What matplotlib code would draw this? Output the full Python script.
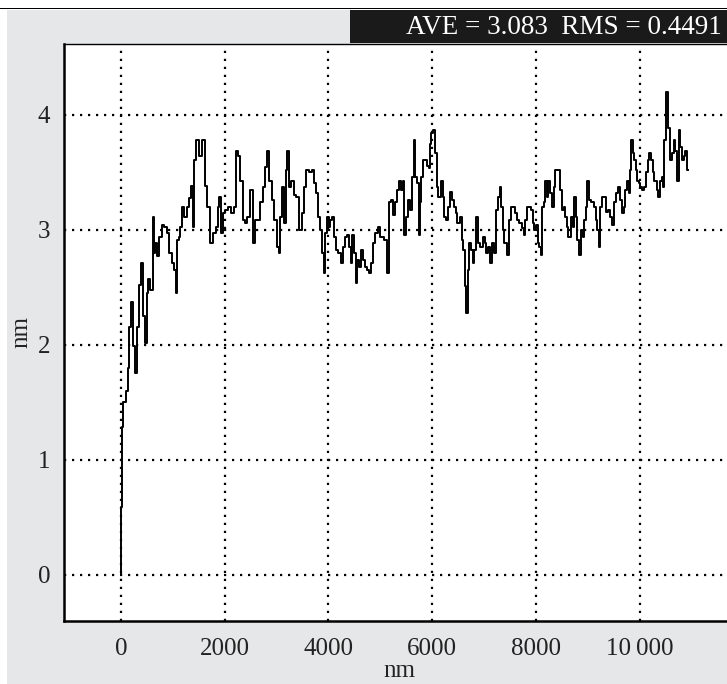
import matplotlib.pyplot as plt
from matplotlib.patches import Rectangle

# profile readings (distance in nm, height in nm)
dist_nm = [
    0, 5, 27, 58, 92, 111, 144, 175, 209, 242, 287, 320, 370, 417, 448, 481,
    515, 546, 593, 631, 643, 676, 709, 760, 807, 871, 904, 955, 1002, 1047,
    1080, 1099, 1130, 1164, 1197, 1242, 1294, 1339, 1372, 1403, 1423, 1475,
    1520, 1612, 1631, 1690, 1748, 1807, 1846, 1885, 1904, 1943, 1982, 2041,
    2099, 2158, 2197, 2236, 2275, 2333, 2372, 2411, 2470, 2509, 2567, 2587,
    2665, 2704, 2762, 2801, 2840, 2879, 2937, 2976, 3035, 3054, 3093, 3132,
    3171, 3191, 3230, 3269, 3308, 3366,
    3405, 3464, 3503, 3542, 3600, 3659, 3698, 3737, 3776, 3835, 3854, 3893,
    3932, 3952, 3991, 4030, 4049, 4108, 4127, 4166, 4225, 4244, 4303, 4342,
    4381, 4420, 4439, 4478, 4517, 4537, 4576, 4615, 4634, 4693, 4732, 4771,
    4810, 4829, 4888, 4927, 4985, 5024, 5063, 5102, 5141, 5180, 5219, 5258,
    5297, 5336, 5395, 5414, 5453,
    5473, 5512, 5551, 5609, 5629, 5668, 5687, 5726, 5765, 5785, 5804, 5843,
    5882, 5921, 5960, 5979, 5999, 6038, 6077, 6096, 6135, 6193, 6213, 6252,
    6291, 6330, 6369, 6408, 6447, 6466, 6505, 6564, 6583, 6622, 6642, 6681,
    6700, 6739, 6778, 6798, 6837, 6876, 6895, 6954, 6993, 7032, 7051, 7090,
    7129, 7168, 7207, 7246, 7285, 7324, 7344, 7383, 7402,
    7441, 7461, 7500, 7539, 7578, 7617, 7656, 7714, 7753, 7773, 7812, 7831,
    7890, 7929, 7948, 7987, 8026, 8046, 8085, 8104, 8143, 8163, 8202, 8221,
    8260, 8299, 8338, 8358, 8397, 8455, 8494, 8533, 8553, 8592, 8611, 8650,
    8689, 8728, 8748, 8787, 8806, 8845, 8884, 8923, 8943, 8982, 9001, 9040,
    9099, 9138, 9177, 9196, 9235, 9255, 9294, 9333,
    9372, 9411, 9450, 9489, 9528, 9567, 9606, 9645, 9684, 9704, 9743, 9782,
    9801, 9821, 9860, 9879, 9918, 9938, 9977, 9996, 10035, 10074, 10113,
    10152, 10172, 10211, 10250, 10269, 10308, 10347, 10367, 10406, 10445,
    10464, 10484, 10542, 10562, 10601, 10640, 10679, 10698, 10737, 10776,
    10796, 10835, 10874, 10893, 10932,
]
height_nm = [
    0.00, 0.59, 1.29, 1.50, 1.50, 1.60, 1.80, 2.16, 2.37, 1.99, 1.76, 2.16,
    2.52, 2.71, 2.25, 2.02, 2.45, 2.57, 2.48, 3.11, 2.80, 2.89, 2.77, 2.94,
    3.04, 3.03, 2.97, 2.80, 2.71, 2.65, 2.45, 2.91, 2.94, 3.03, 3.20, 3.11,
    3.20, 3.28, 3.38, 3.03, 3.61, 3.78, 3.64, 3.78, 3.38, 3.20, 2.89, 2.97,
    3.03, 3.20, 3.29, 2.97, 3.15, 3.17, 3.20, 3.15, 3.20, 3.69, 3.64, 3.43,
    3.09, 3.06, 3.11, 3.35, 2.89, 3.09, 3.09, 3.24, 3.37, 3.55, 3.69, 3.43,
    3.26, 3.09, 2.85, 2.80, 3.11, 3.37, 3.06, 3.52, 3.69, 3.37, 3.43, 3.30,
    3.29, 3.00, 3.15, 3.37, 3.52, 3.50, 3.52, 3.41, 3.32, 3.11, 3.00, 2.80,
    2.63, 2.97, 3.11, 3.03, 3.09, 3.11, 2.94, 2.83, 2.80, 2.71, 2.85, 2.94,
    2.96, 2.85, 2.71, 2.96, 2.80, 2.54, 2.74, 2.68, 2.83, 2.74, 2.68, 2.65,
    2.63, 2.71, 2.89, 2.97, 3.03, 2.94, 2.94, 2.91, 2.63, 3.24, 3.26, 3.13,
    3.24, 3.35, 3.43, 3.35, 3.43,
    2.96, 3.11, 3.26, 3.17, 3.46, 3.78, 3.46, 3.41, 2.96, 3.24, 3.46, 3.61,
    3.61, 3.56, 3.54, 3.75, 3.84, 3.87, 3.67, 3.37, 3.29, 3.43, 3.29, 3.11,
    3.09, 3.20, 3.33, 3.26, 3.20, 3.15, 3.06, 3.11, 2.91, 2.83, 2.51, 2.28,
    2.65, 2.89, 2.83, 2.71, 2.83, 3.11, 2.89, 2.85, 2.94, 2.89, 2.80, 2.85,
    2.71, 2.89, 2.80, 3.17, 3.29, 3.37, 3.20, 3.00, 2.89,
    2.89, 2.78, 3.09, 3.20, 3.20, 3.15, 3.09, 3.06, 3.02, 2.96, 3.09, 3.20,
    3.20, 3.17, 3.06, 3.00, 3.04, 2.89, 2.85, 2.78, 3.20, 3.24, 3.43, 3.29,
    3.43, 3.32, 3.20, 3.37, 3.52, 3.52, 3.35, 3.17, 3.20, 3.11, 3.03, 2.94,
    3.11, 3.03, 3.29, 3.11, 2.91, 2.78, 3.00, 2.94, 3.09, 3.20, 3.43, 3.26,
    3.24, 3.20, 3.09, 3.00, 2.85, 3.20, 3.29, 3.29,
    3.16, 3.17, 3.11, 3.04, 3.24, 3.32, 3.37, 3.26, 3.15, 3.20, 3.35, 3.43,
    3.32, 3.52, 3.78, 3.67, 3.61, 3.52, 3.43, 3.41, 3.37, 3.35, 3.37,
    3.50, 3.61, 3.67, 3.61, 3.50, 3.43, 3.35, 3.29, 3.43, 3.46,
    3.37, 3.78, 4.20, 3.89, 3.61, 3.67, 3.78, 3.69, 3.43, 3.87,
    3.72, 3.61, 3.64, 3.69, 3.52,
]

x_ticks = [0, 2000, 4000, 6000, 8000, 10000]
x_tick_labels = ["0", "2000", "4000", "6000", "8000", "10\u2009000"]
y_ticks = [0, 1, 2, 3, 4]
stats_text = "AVE = 3.083  RMS = 0.4491"

plt.rcParams['font.family'] = ['Liberation Serif', 'DejaVu Serif']

W, H = 727, 684
fig = plt.figure(figsize=(W / 100, H / 100), dpi=100)
fig.patch.set_facecolor('white')

# gray panel and header strip, kept behind the axes
fig.patches.append(Rectangle((7 / W, 0), 1, (H - 10) / H, transform=fig.transFigure,
                             facecolor='#e6e7e8', edgecolor='none', zorder=-10))
fig.patches.append(Rectangle((0, (H - 9) / H), 1, 1.5 / H, transform=fig.transFigure,
                             facecolor='black', edgecolor='none', zorder=-9))
fig.patches.append(Rectangle((350 / W, (H - 43) / H), 1, 33 / H, transform=fig.transFigure,
                             facecolor='#1a1a1a', edgecolor='none', zorder=-9))
fig.text(722 / W, (H - 27) / H, stats_text, color='white', fontsize=19.5,
         ha='right', va='center')

ax = fig.add_axes([64 / W, (H - 621) / H, (W - 64) / W + 0.01, (621 - 44) / H])
ax.set_facecolor('white')
ax.plot(dist_nm, height_nm, color='black', lw=1.4, drawstyle='steps-mid')

ax.set_xlim(-1097, 11827)
ax.set_ylim(-0.40, 4.617)
ax.set_xticks(x_ticks)
ax.set_xticklabels(x_tick_labels)
ax.set_yticks(y_ticks)
ax.tick_params(length=0, labelsize=18, colors='#222222')
ax.tick_params(axis='x', pad=12)
ax.tick_params(axis='y', pad=10)
ax.grid(True, color='black', lw=1.6, linestyle=(0, (1, 2.6)))

ax.spines['right'].set_visible(False)
for side in ['left', 'bottom']:
    ax.spines[side].set_linewidth(1.8)
ax.spines['top'].set_linewidth(1.0)

ax.set_xlabel("nm", fontsize=18, labelpad=0, color='#222222')
ax.set_ylabel("nm", fontsize=18, labelpad=4, color='#222222')

fig.savefig("out.png", dpi=100, facecolor=fig.get_facecolor())
